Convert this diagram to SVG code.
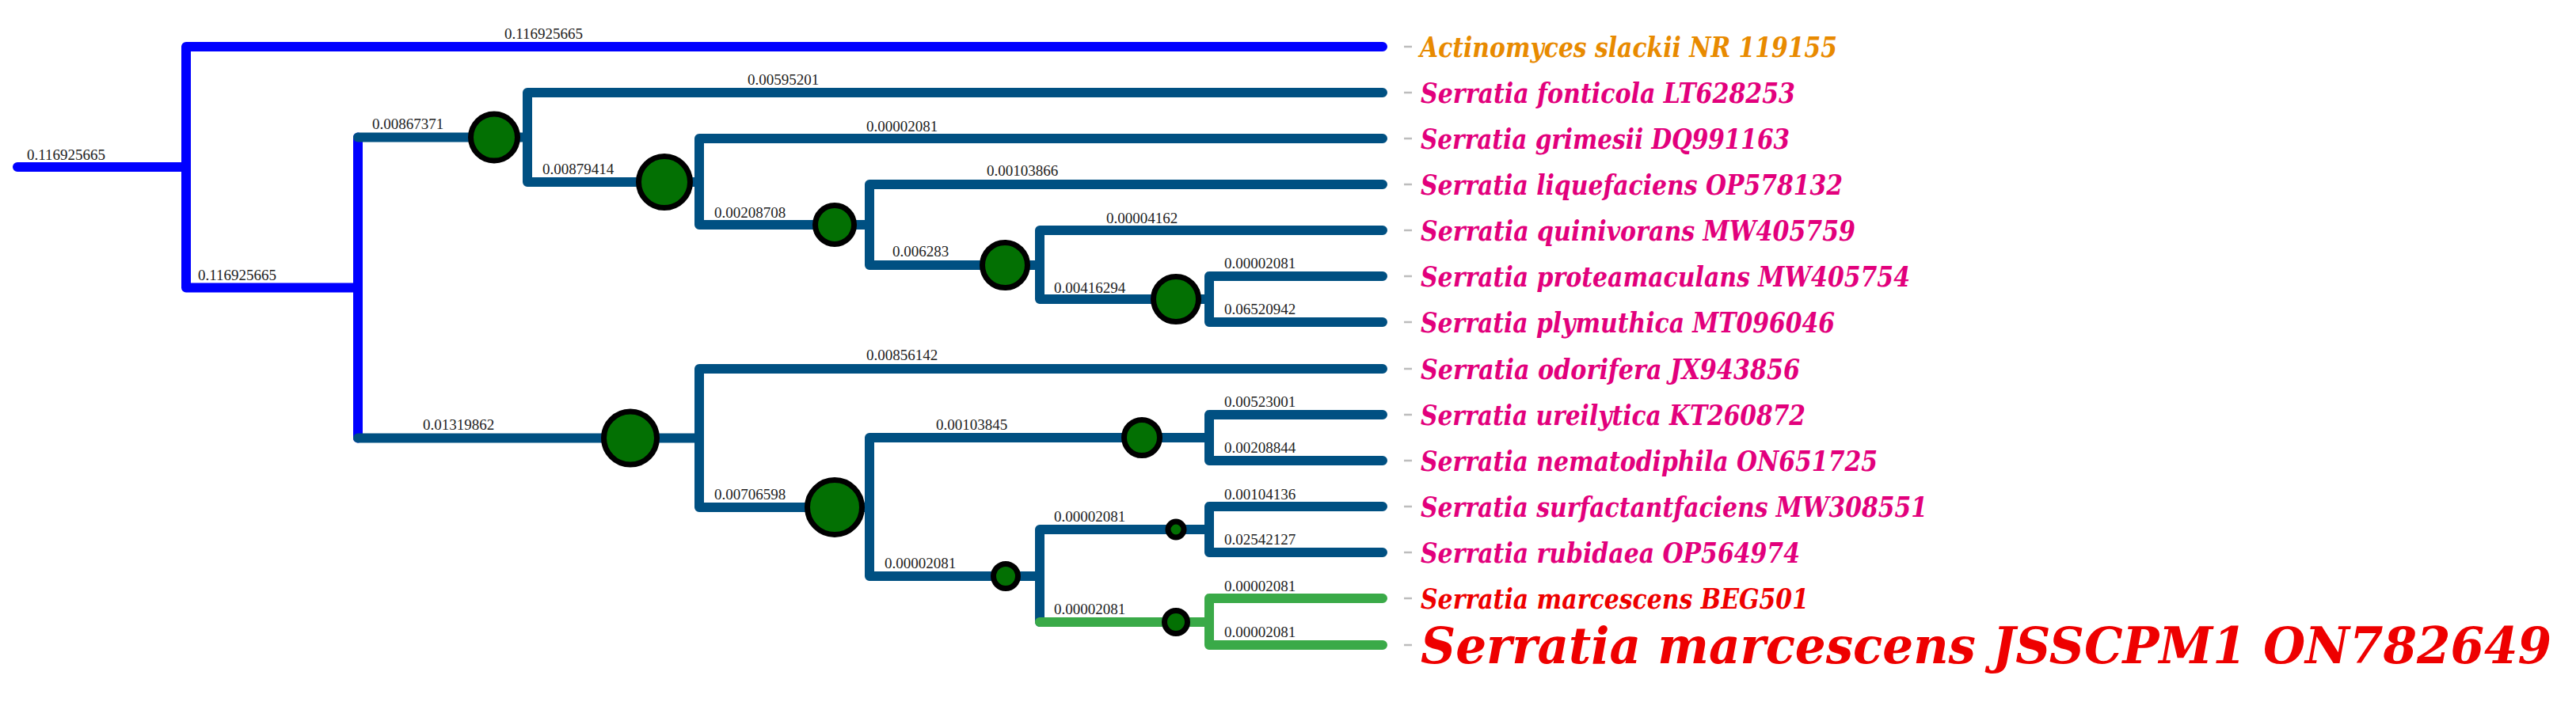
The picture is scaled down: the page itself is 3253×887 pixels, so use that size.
<svg xmlns="http://www.w3.org/2000/svg" width="3253" height="887" viewBox="0 0 3253 887">
<style>
.b{fill:none;stroke-width:12;stroke-linecap:round}
.blue{stroke:#0000FF}
.teal{stroke:#005082}
.grn{stroke:#3AAA48}
.node{fill:#037003;stroke:#000;stroke-width:7}
.bl{font-family:"Liberation Serif","Times New Roman",serif;font-size:19px;fill:#222}
.lf{font-family:"DejaVu Serif Condensed","DejaVu Serif",serif;font-stretch:condensed;font-weight:bold;font-style:italic;font-size:36px}
.dash{stroke:#BDBDBD;stroke-width:2.5}
.or{fill:#E88A00}
.pk{fill:#E2007C}
.rd{fill:#EE0000}
</style>
<rect width="3253" height="887" fill="#fff"/>
<g id="connectors">
<path class="b blue" d="M22,211H235M235,59V363.5M235,59H1746M235,363.5H452M452,173.5V553.5"/>
<path class="b teal" d="M452,173.5H666M666,117V230M666,117H1746M666,230H883M883,175V284M883,175H1746M883,284H1098M1098,233V335M1098,233H1746M1098,335H1313M1313,291V378M1313,291H1746M1313,378H1527M1527,349V407M1527,349H1746M1527,407H1746"/>
<path class="b teal" d="M452,553.5H883M883,466V641M883,466H1746M883,641H1098M1098,553V728M1098,553H1527M1527,524V582M1527,524H1746M1527,582H1746M1098,728H1313M1313,669V786M1313,669H1527M1527,640V698M1527,640H1746M1527,698H1746"/>
<path class="b grn" d="M1313,786H1527M1527,756V815M1527,756H1746M1527,815H1746"/>
<g id="branch-labels" class="bl">
<text x="34" y="202">0.116925665</text>
<text x="637" y="49">0.116925665</text>
<text x="250" y="354">0.116925665</text>
<text x="470" y="163">0.00867371</text>
<text x="944" y="107">0.00595201</text>
<text x="685" y="220">0.00879414</text>
<text x="1094" y="166">0.00002081</text>
<text x="902" y="275">0.00208708</text>
<text x="1246" y="222">0.00103866</text>
<text x="1127" y="324">0.006283</text>
<text x="1397" y="282">0.00004162</text>
<text x="1331" y="370">0.00416294</text>
<text x="1546" y="339">0.00002081</text>
<text x="1546" y="397">0.06520942</text>
<text x="534" y="543">0.01319862</text>
<text x="1094" y="455">0.00856142</text>
<text x="902" y="631">0.00706598</text>
<text x="1182" y="543">0.00103845</text>
<text x="1546" y="514">0.00523001</text>
<text x="1546" y="572">0.00208844</text>
<text x="1117" y="718">0.00002081</text>
<text x="1331" y="659">0.00002081</text>
<text x="1546" y="631">0.00104136</text>
<text x="1546" y="688">0.02542127</text>
<text x="1331" y="776">0.00002081</text>
<text x="1546" y="747">0.00002081</text>
<text x="1546" y="805">0.00002081</text>
</g>
<g id="leaders" class="dash">
<path d="M1773,59H1783M1773,117H1783M1773,175H1783M1773,233H1783M1773,291H1783M1773,349H1783M1773,407H1783M1773,466H1783M1773,524H1783M1773,582H1783M1773,640H1783M1773,698H1783M1773,756H1783M1773,815H1783"/>
</g>
</g>
<g id="n1"><circle class="node" cx="624" cy="173.5" r="29.5"/></g>
<g id="n2"><circle class="node" cx="839" cy="230" r="32.5"/></g>
<g id="n3"><circle class="node" cx="1054" cy="284" r="24.5"/></g>
<g id="n4"><circle class="node" cx="1269" cy="335" r="28.5"/></g>
<g id="n5"><circle class="node" cx="1485" cy="378" r="28.5"/></g>
<g id="n6"><circle class="node" cx="796" cy="553.5" r="33.5"/></g>
<g id="n7"><circle class="node" cx="1054" cy="641" r="34.5"/></g>
<g id="n8"><circle class="node" cx="1442" cy="553" r="22.5"/></g>
<g id="n9"><circle class="node" cx="1270" cy="728" r="15.5"/></g>
<g id="n10"><circle class="node" cx="1485" cy="669" r="10"/></g>
<g id="n11"><circle class="node" cx="1485" cy="786" r="14.5"/></g>
<g id="leaf1"><text class="lf or" x="1793" y="72" textLength="527" lengthAdjust="spacingAndGlyphs">Actinomyces slackii NR 119155</text></g>
<g id="leaf2"><text class="lf pk" x="1794" y="130" textLength="473" lengthAdjust="spacingAndGlyphs">Serratia fonticola LT628253</text></g>
<g id="leaf3"><text class="lf pk" x="1794" y="188" textLength="466" lengthAdjust="spacingAndGlyphs">Serratia grimesii DQ991163</text></g>
<g id="leaf4"><text class="lf pk" x="1794" y="246" textLength="533" lengthAdjust="spacingAndGlyphs">Serratia liquefaciens OP578132</text></g>
<g id="leaf5"><text class="lf pk" x="1794" y="304" textLength="549" lengthAdjust="spacingAndGlyphs">Serratia quinivorans MW405759</text></g>
<g id="leaf6"><text class="lf pk" x="1794" y="362" textLength="618" lengthAdjust="spacingAndGlyphs">Serratia proteamaculans MW405754</text></g>
<g id="leaf7"><text class="lf pk" x="1794" y="420" textLength="523" lengthAdjust="spacingAndGlyphs">Serratia plymuthica MT096046</text></g>
<g id="leaf8"><text class="lf pk" x="1794" y="479" textLength="479" lengthAdjust="spacingAndGlyphs">Serratia odorifera JX943856</text></g>
<g id="leaf9"><text class="lf pk" x="1794" y="537" textLength="486" lengthAdjust="spacingAndGlyphs">Serratia ureilytica KT260872</text></g>
<g id="leaf10"><text class="lf pk" x="1794" y="595" textLength="577" lengthAdjust="spacingAndGlyphs">Serratia nematodiphila ON651725</text></g>
<g id="leaf11"><text class="lf pk" x="1794" y="653" textLength="640" lengthAdjust="spacingAndGlyphs">Serratia surfactantfaciens MW308551</text></g>
<g id="leaf12"><text class="lf pk" x="1794" y="711" textLength="479" lengthAdjust="spacingAndGlyphs">Serratia rubidaea OP564974</text></g>
<g id="leaf13"><text class="lf rd" x="1794" y="769" textLength="490" lengthAdjust="spacingAndGlyphs">Serratia marcescens BEG501</text></g>
<g id="leaf14"><text class="lf rd" x="1794" y="838" style="font-size:63px" textLength="1428" lengthAdjust="spacingAndGlyphs">Serratia marcescens JSSCPM1 ON782649</text></g>
</svg>
